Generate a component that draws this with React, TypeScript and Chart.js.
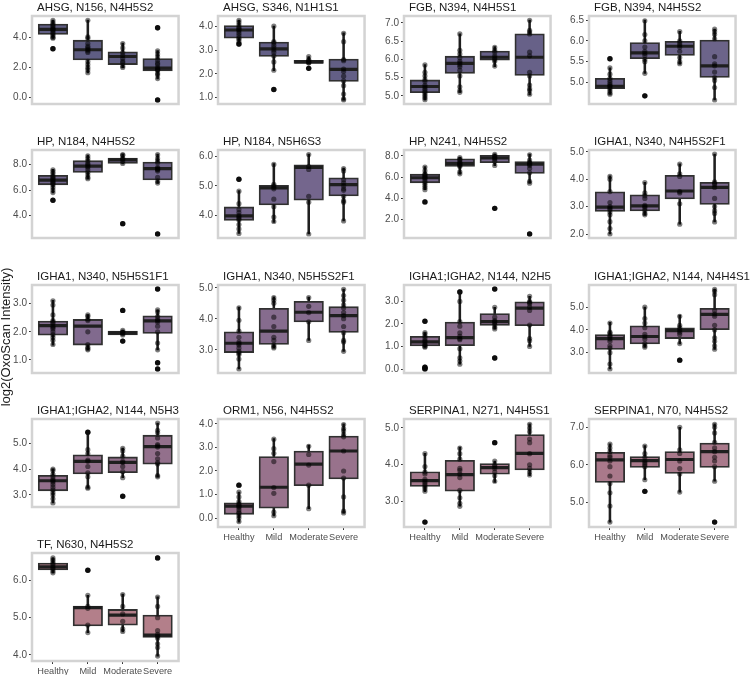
import React, { useEffect, useRef } from "react";
import { Chart, registerables } from "chart.js";

Chart.register(...registerables);

const FONT = "'Liberation Sans', Arial, Helvetica, sans-serif";

const GROUPS = ["Healthy", "Mild", "Moderate", "Severe"];

const TITLES = [
  "AHSG, N156, N4H5S2",
  "AHSG, S346, N1H1S1",
  "FGB, N394, N4H5S1",
  "FGB, N394, N4H5S2",
  "HP, N184, N4H5S2",
  "HP, N184, N5H6S3",
  "HP, N241, N4H5S2",
  "IGHA1, N340, N4H5S2F1",
  "IGHA1, N340, N5H5S1F1",
  "IGHA1, N340, N5H5S2F1",
  "IGHA1;IGHA2, N144, N2H5",
  "IGHA1;IGHA2, N144, N4H4S1",
  "IGHA1;IGHA2, N144, N5H3",
  "ORM1, N56, N4H5S2",
  "SERPINA1, N271, N4H5S1",
  "SERPINA1, N70, N4H5S2",
  "TF, N630, N4H5S2",
];

const Y_TICKS = [
  [0, 2, 4],
  [1, 2, 3, 4],
  [5, 5.5, 6, 6.5, 7],
  [5, 5.5, 6, 6.5],
  [4, 6, 8],
  [4, 5, 6],
  [2, 4, 6, 8],
  [2, 3, 4, 5],
  [1, 2, 3],
  [3, 4, 5],
  [0, 1, 2, 3],
  [3, 4, 5],
  [3, 4, 5],
  [0, 1, 2, 3, 4],
  [3, 4, 5],
  [5, 6, 7],
  [4, 5, 6],
];

const BOX_COLORS = [
  "#5f5d83", "#635f86", "#676188", "#6c648a",
  "#70658c", "#74668d", "#78688e", "#7c698e",
  "#816a8e", "#866c8e", "#8a6d8d", "#8e6e8d",
  "#93708c", "#98728c", "#a5788c", "#a9798b",
  "#b37f8a",
];

// Box statistics per panel, per group (Healthy, Mild, Moderate, Severe)
const WHISKER_LO = [
  [3.94, 1.63, 1.99, 1.23],
  [3.26, 2.13, 2.44, 0.9],
  [4.89, 5.1, 5.8, 5.03],
  [4.72, 5.22, 5.44, 4.58],
  [5.78, 6.9, 8.06, 6.52],
  [3.4, 3.77, 3.38, 3.82],
  [4.79, 6.27, 7.08, 5.42],
  [2.0, 2.69, 2.36, 2.44],
  [1.53, 1.36, 1.89, 1.36],
  [2.38, 3.06, 3.3, 2.95],
  [0.97, 0.21, 1.78, 1.0],
  [2.28, 3.24, 3.38, 3.14],
  [2.69, 3.26, 3.67, 3.7],
  [-0.17, 0.09, 0.4, 0.21],
  [3.27, 2.87, 3.52, 3.7],
  [4.47, 5.6, 5.27, 5.56],
  [6.2, 4.6, 4.62, 3.97],
];
const Q1 = [
  [4.21, 2.5, 2.19, 1.77],
  [3.5, 2.73, 2.44, 1.68],
  [5.09, 5.62, 5.98, 5.56],
  [4.85, 5.57, 5.65, 5.12],
  [6.41, 7.39, 8.11, 6.79],
  [3.84, 4.36, 4.52, 4.66],
  [5.45, 7.0, 7.36, 6.34],
  [2.82, 2.84, 3.28, 3.08],
  [1.88, 1.53, 1.89, 1.94],
  [2.91, 3.17, 3.9, 3.56],
  [1.02, 1.03, 1.93, 1.92],
  [3.14, 3.38, 3.62, 4.01],
  [3.16, 3.81, 3.86, 4.19],
  [0.16, 0.42, 1.38, 1.66],
  [3.41, 3.28, 3.74, 3.86],
  [5.53, 5.93, 5.77, 5.93],
  [6.28, 4.78, 4.8, 4.47],
];
const MEDIAN = [
  [4.54, 3.18, 2.73, 1.95],
  [3.84, 3.05, 2.5, 2.19],
  [5.26, 5.89, 6.06, 6.06],
  [4.91, 5.71, 5.87, 5.4],
  [6.79, 7.89, 8.38, 7.7],
  [3.99, 4.93, 5.62, 5.04],
  [5.93, 7.3, 7.8, 7.21],
  [2.98, 3.03, 3.57, 3.7],
  [2.22, 2.2, 1.96, 2.39],
  [3.21, 3.6, 4.21, 4.1],
  [1.2, 1.39, 2.1, 2.7],
  [3.62, 3.71, 3.97, 4.68],
  [3.55, 4.3, 4.26, 4.87],
  [0.51, 1.31, 2.29, 2.85],
  [3.57, 3.73, 3.92, 4.31],
  [6.13, 6.11, 6.14, 6.35],
  [6.36, 5.27, 5.07, 4.53],
];
const Q3 = [
  [4.9, 3.82, 3.04, 2.59],
  [4.03, 3.33, 2.57, 2.62],
  [5.44, 6.09, 6.23, 6.7],
  [5.1, 5.96, 5.99, 6.02],
  [7.17, 8.32, 8.53, 8.21],
  [4.29, 5.02, 5.71, 5.27],
  [6.27, 7.72, 8.05, 7.46],
  [3.54, 3.43, 4.14, 3.89],
  [2.38, 2.44, 2.03, 2.57],
  [3.58, 4.34, 4.56, 4.39],
  [1.45, 2.08, 2.46, 2.98],
  [3.79, 4.18, 4.09, 4.95],
  [3.76, 4.55, 4.47, 5.31],
  [0.65, 2.61, 2.85, 3.48],
  [3.81, 4.12, 4.03, 4.82],
  [6.33, 6.22, 6.35, 6.58],
  [6.46, 5.31, 5.22, 5.07],
];
const WHISKER_HI = [
  [5.17, 5.17, 3.62, 3.13],
  [4.26, 4.0, 2.72, 3.72],
  [5.86, 6.7, 6.35, 7.08],
  [5.35, 6.5, 6.23, 6.28],
  [7.64, 8.76, 8.85, 8.85],
  [4.84, 5.75, 6.07, 5.6],
  [6.98, 7.87, 8.18, 8.18],
  [4.12, 3.89, 4.56, 4.92],
  [3.12, 2.61, 2.05, 2.78],
  [4.38, 4.71, 4.7, 4.96],
  [1.62, 3.4, 2.74, 3.22],
  [4.33, 5.0, 4.65, 5.8],
  [4.0, 5.41, 4.81, 5.78],
  [1.1, 3.38, 3.1, 4.0],
  [4.31, 4.48, 4.1, 5.11],
  [6.56, 6.51, 7.0, 7.09],
  [6.6, 5.6, 5.63, 5.56],
];

// Individual sample values per panel, per group
const POINTS = [
  [[5.15, 5.0, 4.9, 4.8, 4.7, 4.6, 4.55, 4.5, 4.4, 4.3, 4.2, 4.1, 4.0, 3.95, 3.25], [5.15, 4.05, 3.95, 3.6, 3.4, 3.3, 3.2, 3.1, 3.0, 2.4, 2.2, 2.0, 1.85, 1.65], [3.6, 3.3, 3.0, 2.8, 2.6, 2.4, 2.3, 2.1, 2.0], [4.65, 3.1, 2.9, 2.7, 2.5, 2.3, 2.2, 2.0, 1.9, 1.85, 1.8, 1.6, 1.5, 1.25, -0.18]],
  [[4.25, 4.15, 4.05, 3.95, 3.9, 3.85, 3.8, 3.7, 3.6, 3.5, 3.45, 3.35, 3.25], [4.0, 3.35, 3.3, 3.2, 3.1, 3.0, 2.9, 2.75, 2.5, 2.15, 1.34], [2.72, 2.6, 2.55, 2.5, 2.47, 2.45, 2.23], [3.7, 3.35, 2.6, 2.55, 2.2, 2.1, 1.9, 1.7, 1.5, 1.15, 0.95, 0.9]],
  [[5.85, 5.65, 5.55, 5.45, 5.4, 5.3, 5.25, 5.2, 5.15, 5.1, 5.05, 5.0, 4.95, 4.9], [6.7, 6.25, 6.15, 6.05, 5.95, 5.9, 5.85, 5.8, 5.7, 5.55, 5.25, 5.15, 5.1], [6.33, 6.25, 6.2, 6.1, 6.05, 6.0, 5.95, 5.82], [7.07, 6.8, 6.75, 6.7, 6.2, 6.1, 5.65, 5.55, 5.3, 5.2, 5.15, 5.05]],
  [[5.57, 5.35, 5.2, 5.1, 5.05, 5.0, 4.95, 4.92, 4.9, 4.85, 4.8, 4.75, 4.72], [6.48, 6.15, 6.0, 5.85, 5.75, 5.7, 5.65, 5.55, 5.5, 5.22, 4.68], [6.22, 6.0, 5.95, 5.9, 5.85, 5.75, 5.6, 5.5, 5.45], [6.28, 6.22, 6.15, 6.05, 5.62, 5.45, 5.4, 5.25, 5.12, 5.05, 4.88, 4.58]],
  [[7.6, 7.45, 7.3, 7.1, 7.0, 6.9, 6.8, 6.7, 6.6, 6.5, 6.4, 6.2, 6.0, 5.8, 5.19], [8.7, 8.5, 8.3, 8.1, 8.0, 7.9, 7.8, 7.6, 7.4, 7.2, 7.0, 6.9], [8.8, 8.75, 8.5, 8.45, 8.3, 8.1, 3.34], [8.8, 8.5, 8.3, 8.15, 7.8, 7.7, 7.65, 7.6, 7.5, 7.0, 6.7, 6.55, 2.52]],
  [[5.22, 4.82, 4.4, 4.2, 4.1, 4.0, 3.95, 3.9, 3.85, 3.7, 3.55, 3.4], [5.72, 5.05, 5.0, 4.95, 4.9, 4.55, 4.3, 3.95, 3.8], [6.05, 5.65, 5.55, 4.65, 4.45, 3.38], [5.58, 5.5, 5.2, 5.1, 5.0, 4.9, 4.85, 4.65, 4.5, 4.45, 3.82]],
  [[6.95, 6.6, 6.3, 6.2, 6.1, 6.0, 5.9, 5.8, 5.6, 5.4, 5.2, 5.0, 4.8, 3.64], [7.85, 7.7, 7.6, 7.4, 7.3, 7.2, 7.1, 7.0, 6.5, 6.3], [8.15, 8.0, 7.9, 7.8, 7.7, 7.5, 7.1, 3.03], [8.1, 7.6, 7.4, 7.3, 7.2, 7.1, 6.8, 6.4, 5.6, 5.42, 0.6]],
  [[4.1, 4.0, 3.55, 3.15, 3.0, 2.95, 2.9, 2.8, 2.7, 2.45, 2.2, 2.0], [3.88, 3.5, 3.4, 3.3, 3.05, 3.0, 2.95, 2.85, 2.75, 2.7], [4.55, 4.2, 4.1, 3.55, 3.5, 3.1, 2.36], [4.92, 3.9, 3.85, 3.8, 3.7, 3.3, 3.0, 2.85, 2.75, 2.44]],
  [[3.1, 2.95, 2.6, 2.4, 2.35, 2.3, 2.2, 2.15, 2.1, 2.0, 1.9, 1.8, 1.7, 1.55], [2.6, 2.55, 2.45, 2.4, 2.0, 1.55, 1.45, 1.4, 1.36], [2.76, 2.05, 2.0, 1.97, 1.93, 1.89, 1.67], [3.52, 2.78, 2.7, 2.55, 2.45, 2.4, 2.35, 2.2, 2.0, 1.6, 1.36, 0.9, 0.68]],
  [[4.35, 3.95, 3.6, 3.4, 3.25, 3.2, 3.15, 3.05, 2.95, 2.9, 2.85, 2.7, 2.38], [4.68, 4.6, 4.5, 4.05, 3.75, 3.4, 3.3, 3.15, 3.1, 3.06], [4.68, 4.4, 4.2, 3.9, 3.3], [4.95, 4.75, 4.6, 4.45, 4.35, 4.2, 4.1, 4.0, 3.75, 3.55, 3.3, 3.25, 2.95]],
  [[2.12, 1.62, 1.55, 1.45, 1.35, 1.25, 1.2, 1.1, 1.05, 1.0, 0.97, 0.08, 0.04, 0.0], [3.42, 3.0, 2.1, 1.9, 1.6, 1.45, 1.35, 1.3, 0.9, 0.5, 0.35, 0.21], [3.55, 2.74, 2.3, 2.15, 2.1, 2.05, 1.95, 1.85, 1.78, 0.49], [3.22, 3.0, 2.95, 2.9, 2.75, 2.6, 1.95, 1.35, 1.25, 1.0]],
  [[4.3, 3.9, 3.85, 3.75, 3.7, 3.6, 3.5, 3.3, 3.2, 3.0, 2.5, 2.28], [5.0, 4.5, 4.3, 4.1, 3.8, 3.7, 3.6, 3.4, 3.3, 3.24], [4.6, 4.2, 4.1, 4.0, 3.9, 3.8, 3.4, 2.67], [5.78, 5.7, 5.55, 4.85, 4.7, 4.6, 4.2, 4.0, 3.65, 3.5, 3.3, 3.15]],
  [[4.0, 3.95, 3.8, 3.7, 3.6, 3.55, 3.5, 3.4, 3.3, 3.2, 3.1, 3.0, 2.85, 2.69], [5.42, 4.75, 4.6, 4.35, 4.3, 4.1, 3.85, 3.7, 3.3, 3.26], [4.8, 4.7, 4.5, 4.3, 4.25, 4.1, 3.9, 3.67, 2.95], [5.78, 5.5, 5.4, 5.2, 4.95, 4.9, 4.85, 4.6, 4.4, 4.25, 4.2, 3.75, 3.7]],
  [[1.4, 1.1, 0.9, 0.7, 0.6, 0.55, 0.5, 0.45, 0.35, 0.25, 0.2, 0.1, 0.0, -0.15], [3.35, 2.95, 2.75, 2.4, 1.3, 1.05, 0.25, 0.1], [3.05, 2.7, 2.25, 1.4, 0.4], [3.97, 3.8, 3.7, 3.55, 3.45, 2.85, 2.0, 1.7, 0.9, 0.3, 0.22]],
  [[4.3, 3.95, 3.8, 3.75, 3.6, 3.55, 3.5, 3.45, 3.4, 3.35, 3.28, 2.44], [4.45, 4.3, 4.15, 3.9, 3.85, 3.75, 3.65, 3.3, 3.1, 2.95, 2.87], [4.6, 4.1, 4.0, 3.95, 3.9, 3.8, 3.7, 3.55], [5.1, 5.0, 4.9, 4.7, 4.6, 4.3, 4.0, 3.9, 3.8, 3.72]],
  [[6.55, 6.45, 6.35, 6.25, 6.2, 6.1, 5.95, 5.7, 5.5, 5.25, 4.9, 4.47], [6.5, 6.3, 6.2, 6.1, 6.05, 6.0, 5.95, 5.6, 5.29], [7.0, 6.4, 6.3, 6.1, 5.9, 5.75, 5.27], [7.08, 7.0, 6.85, 6.6, 6.45, 6.35, 6.2, 6.1, 5.95, 5.56, 4.47]],
  [[6.6, 6.55, 6.5, 6.45, 6.4, 6.35, 6.3, 6.25, 6.2], [6.27, 5.6, 5.3, 5.25, 4.8, 4.6], [5.62, 5.3, 5.1, 4.9, 4.7, 4.63], [6.6, 5.55, 5.3, 5.0, 4.65, 4.55, 4.5, 4.45, 4.3, 4.2, 3.97]],
];

const Y_TITLE = "log2(OxoScan Intensity)";

// layout (pixels)
const PLOT_W = 162;
const PLOT_H = 108;
const AXIS_W = 32;
const TITLE_H = 18;
const X_AXIS_H = 20;
const COL_X0 = 32;
const COL_STEP = 185.8;
const ROW_Y0 = 16;
const ROW_STEP = 134.3;
const BOX_W = 29.5;

function Panel({ idx }: { idx: number }) {
  const ref = useRef<HTMLCanvasElement | null>(null);
  const col = idx % 4;
  const row = Math.floor(idx / 4);
  const isBottom = idx + 4 >= TITLES.length;
  const left = COL_X0 + COL_STEP * col - AXIS_W;
  const top = ROW_Y0 + ROW_STEP * row - TITLE_H;
  const width = Math.round(AXIS_W + PLOT_W + 2);
  const height = Math.round(TITLE_H + PLOT_H + (isBottom ? X_AXIS_H : 2));

  useEffect(() => {
    if (!ref.current) return;
    const pts: { x: number; y: number }[] = [];
    const outs: { x: number; y: number }[] = [];
    POINTS[idx].forEach((vals, j) => {
      vals.forEach((v) => {
        pts.push({ x: j + 1, y: v });
        if (v < WHISKER_LO[idx][j] - 0.005 || v > WHISKER_HI[idx][j] + 0.005) outs.push({ x: j + 1, y: v });
      });
    });
    const all = [...POINTS[idx].flat(), ...WHISKER_LO[idx], ...WHISKER_HI[idx]];
    const mn = Math.min(...all);
    const mx = Math.max(...all);
    const pad = (mx - mn) * 0.05;

    const decor = {
      id: "panelDecor",
      afterDatasetsDraw(chart: any) {
        const { ctx, chartArea } = chart;
        ctx.save();
        ctx.strokeStyle = "#d3d3d3";
        ctx.lineWidth = 2.5;
        ctx.strokeRect(chartArea.left, chartArea.top, chartArea.right - chartArea.left, chartArea.bottom - chartArea.top);
        ctx.restore();
      },
      afterDraw(chart: any) {
        const { ctx, chartArea } = chart;
        ctx.save();
        ctx.font = `11.5px ${FONT}`;
        ctx.fillStyle = "#1a1a1a";
        ctx.textAlign = "left";
        ctx.textBaseline = "alphabetic";
        ctx.fillText(TITLES[idx], chartArea.left + 5, chartArea.top - 5.5);
        ctx.restore();
      },
    };

    const chart = new Chart(ref.current, {
      type: "bar",
      data: {
        datasets: [
          {
            type: "bar",
            data: GROUPS.map((g, j) => ({ x: j + 1, y: [WHISKER_LO[idx][j], WHISKER_HI[idx][j]] })),
            backgroundColor: "#1f1f1f",
            borderWidth: 0,
            barThickness: 1.9,
            grouped: false,
            order: 4,
          } as any,
          {
            type: "bar",
            data: GROUPS.map((g, j) => ({ x: j + 1, y: [Q1[idx][j], Q3[idx][j]] })),
            backgroundColor: BOX_COLORS[idx],
            borderColor: "#303030",
            borderWidth: 1.8,
            borderSkipped: false,
            grouped: false,
            barThickness: BOX_W,
            order: 3,
          } as any,
          {
            type: "scatter",
            data: GROUPS.map((g, j) => ({ x: j + 1, y: MEDIAN[idx][j] })),
            pointStyle: "line",
            pointRadius: BOX_W / 2 - 0.5,
            pointBorderWidth: 3.2,
            pointBorderColor: "#1f1f1f",
            order: 2,
          } as any,
          {
            type: "scatter",
            data: outs,
            pointRadius: 2.7,
            pointBackgroundColor: "#1a1a1a",
            pointBorderWidth: 0,
            order: 1,
          } as any,
          {
            type: "scatter",
            data: pts,
            pointRadius: 2.6,
            pointBackgroundColor: "rgba(0,0,0,0.5)",
            pointBorderWidth: 0,
            order: 0,
          } as any,
        ],
      },
      options: {
        responsive: false,
        animation: false,
        devicePixelRatio: 1,
        events: [],
        layout: { padding: { top: TITLE_H, left: 0, right: 2, bottom: isBottom ? 0 : 2 } },
        plugins: { legend: { display: false }, tooltip: { enabled: false }, title: { display: false } },
        scales: {
          x: {
            type: "linear",
            min: 0.4,
            max: 4.6,
            offset: false,
            display: isBottom,
            afterBuildTicks: (a: any) => {
              a.ticks = GROUPS.map((g, j) => ({ value: j + 1 }));
            },
            afterFit: (a: any) => {
              a.height = X_AXIS_H;
            },
            grid: { offset: false, drawOnChartArea: false, drawTicks: true, tickLength: 3, color: "#333333" },
            border: { display: false },
            ticks: {
              autoSkip: false,
              maxRotation: 0,
              minRotation: 0,
              padding: 2,
              font: { size: 9.2, family: FONT },
              color: "#4d4d4d",
              callback: (v: any) => GROUPS[Math.round(Number(v)) - 1],
            },
          },
          y: {
            type: "linear",
            min: mn - pad,
            max: mx + pad,
            afterBuildTicks: (a: any) => {
              a.ticks = Y_TICKS[idx].map((v) => ({ value: v }));
            },
            afterFit: (a: any) => {
              a.width = AXIS_W;
            },
            grid: { drawOnChartArea: false, drawTicks: true, tickLength: 3, color: "#333333" },
            border: { display: false },
            ticks: {
              padding: 2,
              font: { size: 10, family: FONT },
              color: "#4d4d4d",
              callback: (v: any) => Number(v).toFixed(1),
            },
          },
        },
      } as any,
      plugins: [decor],
    });
    return () => chart.destroy();
  }, [idx]);

  return (
    <canvas
      ref={ref}
      width={width}
      height={height}
      style={{ position: "absolute", left, top, width, height }}
    />
  );
}

export default function App() {
  return (
    <div style={{ position: "absolute", left: 0, top: 0, width: 752, height: 675, background: "#ffffff", overflow: "hidden" }}>
      {TITLES.map((t, i) => (
        <Panel key={t} idx={i} />
      ))}
      <div
        style={{
          position: "absolute",
          left: 6 - 150,
          top: 337 - 8,
          width: 300,
          height: 16,
          lineHeight: "16px",
          textAlign: "center",
          transform: "rotate(-90deg)",
          font: `13px ${FONT}`,
          color: "#1a1a1a",
          whiteSpace: "nowrap",
        }}
      >
        {Y_TITLE}
      </div>
    </div>
  );
}
